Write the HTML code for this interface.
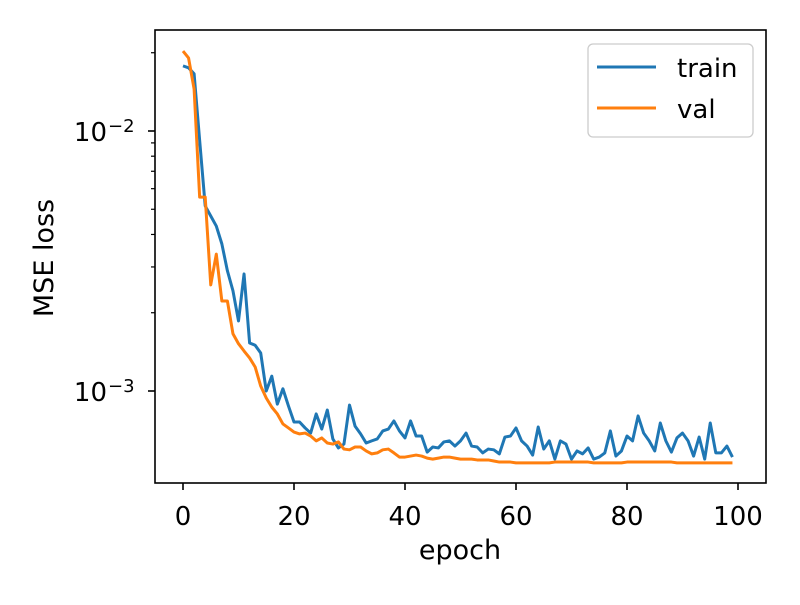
<!DOCTYPE html>
<html><head><meta charset="utf-8"><style>body{margin:0;background:#fff}svg text{font-family:"DejaVu Sans","Liberation Sans",sans-serif;fill:#000}</style></head>
<body>
<svg id="chart" width="800" height="600" xmlns="http://www.w3.org/2000/svg">
<rect width="800" height="600" fill="#fff"/>
<g id="plot"></g>
<rect x="155" y="30" width="611" height="453" fill="none" stroke="#000" stroke-width="1.6"/>
<g id="axes"></g>
<text x="460" y="559" font-size="27" text-anchor="middle">epoch</text>
<text transform="translate(53,258) rotate(-90)" font-size="27" text-anchor="middle">MSE loss</text>
<g>
<rect x="588" y="44" width="165" height="93" rx="5" fill="#fff" fill-opacity="0.8" stroke="#ccc" stroke-width="1.3"/>
<line x1="597" y1="67" x2="656" y2="67" stroke="#1f77b4" stroke-width="3"/>
<text x="677" y="77" font-size="26">train</text>
<line x1="597" y1="108" x2="656" y2="108" stroke="#ff7f0e" stroke-width="3"/>
<text x="677" y="118" font-size="26">val</text>
</g>
</svg>
<script>
const trainLoss=[0.0178,0.0175,0.0166,0.0092,0.00515,0.00471,0.00431,0.00368,0.0029,0.00243,0.00186,0.00282,0.00153,0.0015,0.0014,0.001,0.00114,0.00089,0.00102,0.000876,0.00076,0.00076,0.000721,0.000689,0.000816,0.000714,0.000845,0.000654,0.000604,0.000625,0.000883,0.000733,0.000684,0.000631,0.000643,0.000654,0.000702,0.000714,0.000767,0.000702,0.00066,0.000767,0.000671,0.000671,0.000582,0.000609,0.000604,0.000637,0.000643,0.000614,0.000643,0.000689,0.000614,0.000609,0.000578,0.000598,0.000594,0.000573,0.000665,0.000671,0.000721,0.000643,0.000614,0.000567,0.000727,0.000598,0.000643,0.000547,0.000643,0.000625,0.000547,0.000588,0.000573,0.000604,0.000547,0.000557,0.000578,0.000702,0.000562,0.000588,0.000671,0.000643,0.000802,0.000689,0.000643,0.000588,0.000753,0.000643,0.000582,0.00066,0.000689,0.000643,0.000562,0.000665,0.000547,0.000753,0.000578,0.000578,0.000614,0.000557];
const valLoss=[0.0203,0.0191,0.0145,0.00557,0.00557,0.00256,0.00336,0.00222,0.00222,0.00166,0.00152,0.001425,0.00134,0.001237,0.001045,0.00094,0.000867,0.000816,0.000747,0.000721,0.000695,0.000684,0.000689,0.000671,0.000643,0.00066,0.000631,0.000625,0.000637,0.000598,0.000594,0.000609,0.000609,0.000588,0.000573,0.000578,0.000594,0.000598,0.000578,0.000557,0.000557,0.000562,0.000567,0.000562,0.000552,0.000547,0.000552,0.000557,0.000557,0.000552,0.000547,0.000547,0.000547,0.000543,0.000543,0.000543,0.000538,0.000533,0.000533,0.000533,0.000529,0.000529,0.000529,0.000529,0.000529,0.000529,0.000529,0.000533,0.000533,0.000533,0.000533,0.000533,0.000533,0.000533,0.000529,0.000529,0.000529,0.000529,0.000529,0.000529,0.000533,0.000533,0.000533,0.000533,0.000533,0.000533,0.000533,0.000533,0.000533,0.000529,0.000529,0.000529,0.000529,0.000529,0.000529,0.000529,0.000529,0.000529,0.000529,0.000529];
const xTicks=[0,20,40,60,80,100];
const yMajor=[-3,-2];
const NS="http://www.w3.org/2000/svg";
function X(v){return 183+v*5.55;}
function Y(v){return 131-(Math.log10(v)+2)*260;}
function mk(tag,attrs,parent){const e=document.createElementNS(NS,tag);for(const k in attrs)e.setAttribute(k,attrs[k]);parent.appendChild(e);return e;}
const plot=document.getElementById('plot'),axes=document.getElementById('axes');
function series(arr,color,name){
  const d=arr.map((v,i)=>(i?'L':'M')+X(i).toFixed(2)+','+Y(v).toFixed(2)).join('');
  const p=mk('path',{d:d,fill:'none',stroke:color,'stroke-width':3,'stroke-linejoin':'round'},plot);
  
  
}
series(trainLoss,'#1f77b4','train-line');
series(valLoss,'#ff7f0e','val-line');
xTicks.forEach(t=>{
  const l=mk('line',{x1:X(t),x2:X(t),y1:483,y2:490,stroke:'#000','stroke-width':1.6},axes);
  
  
  const tx=mk('text',{x:X(t),y:525,'font-size':26,'text-anchor':'middle'},axes);
  tx.textContent=t;
  
  
});
yMajor.forEach(e=>{
  const y=Y(Math.pow(10,e));
  const l=mk('line',{x1:148,x2:155,y1:y,y2:y,stroke:'#000','stroke-width':1.6},axes);
  
  
  const tx=mk('text',{x:107,y:y+10,'font-size':26,'text-anchor':'end'},axes);
  tx.textContent='10';
  
  
  const sp=mk('text',{x:108,y:y+1,'font-size':18},axes);
  sp.textContent='\u2212'+(-e);
  
  
  for(let m=2;m<=9;m++){
    const v=m*Math.pow(10,e);const yy=Y(v);
    if(yy<30||yy>483)continue;
    const ml=mk('line',{x1:151,x2:155,y1:yy,y2:yy,stroke:'#000','stroke-width':1.2},axes);
    
    
  }
});
</script>
</body></html>
